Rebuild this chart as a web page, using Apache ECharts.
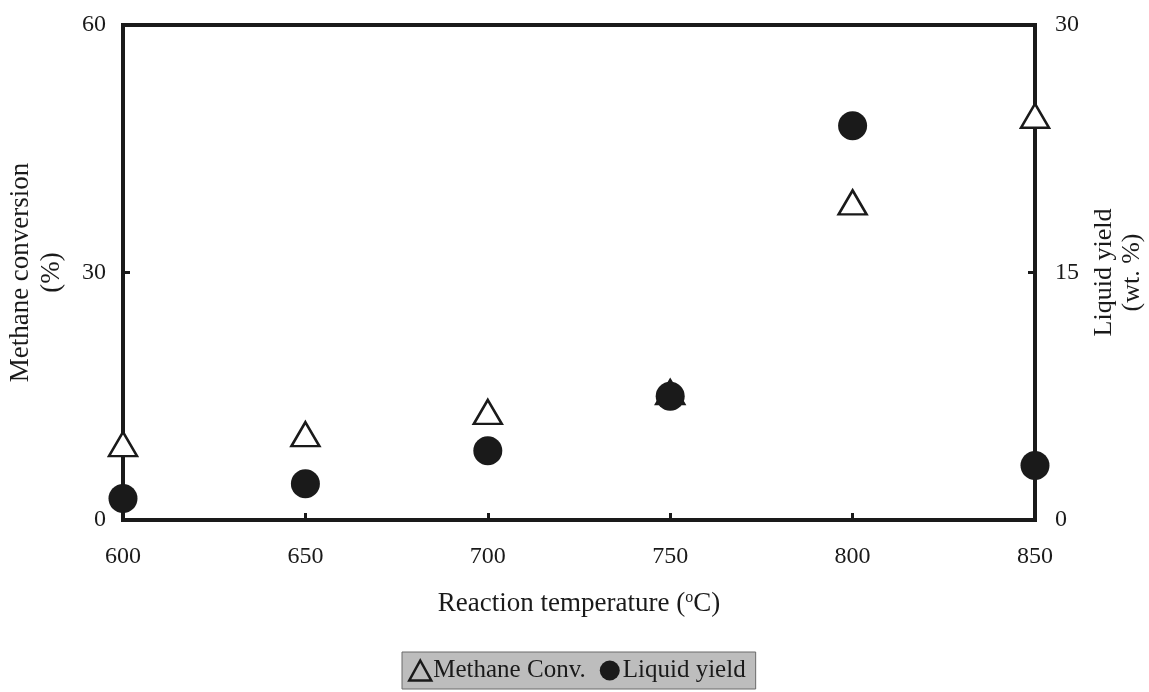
<!DOCTYPE html>
<html>
<head>
<meta charset="utf-8">
<script src="https://cdn.jsdelivr.net/npm/echarts@6/dist/echarts.min.js"></script>
<style>
  html, body { margin: 0; padding: 0; background: #fff; }
  #chart { width: 1149px; height: 692px; }
</style>
</head>
<body>
<div id="chart"></div>
<script>
// reaction temperature (°C)
const temperatures = [600, 650, 700, 750, 800, 850];
// methane conversion (%), left axis
const methaneConv = [9.2, 10.4, 13.1, 15.5, 38.5, 49.0];
// liquid yield (wt. %), right axis
const liquidYield = [1.3, 2.2, 4.2, 7.5, 23.9, 3.3];

const FONT = "Liberation Serif";
const INK = "#1a1a1a";

const chart = echarts.init(document.getElementById("chart"));

const tickText = { color: INK, fontFamily: FONT, fontSize: 24 };
const tickStyle = { show: true, inside: true, length: 7, lineStyle: { color: INK, width: 3 } };

const option = {
  animation: false,
  backgroundColor: "#fff",
  grid: {
    left: 123,
    right: 114,
    top: 25,
    bottom: 172,
    outerBoundsMode: "none",
    containLabel: false,
    show: true,
    borderColor: INK,
    borderWidth: 4,
  },
  legend: {
    left: 402,
    bottom: 3,
    backgroundColor: "#bdbdbd",
    borderColor: "#6a6a6a",
    borderWidth: 1,
    borderRadius: 0,
    padding: [6, 10, 6, 6],
    itemGap: 14,
    itemWidth: 22,
    itemHeight: 20,
    textStyle: { color: INK, fontFamily: FONT, fontSize: 25, padding: [0, 0, 0, -3] },
    data: [
      {
        name: "Methane Conv.",
        icon: "triangle",
        itemStyle: { color: "rgba(0,0,0,0)", borderColor: INK, borderWidth: 2.5 },
      },
      { name: "Liquid yield", icon: "circle" },
    ],
  },
  xAxis: {
    type: "value",
    min: 600,
    max: 850,
    interval: 50,
    name: "Reaction temperature ({sup|o}C)",
    nameLocation: "middle",
    nameGap: 70,
    nameTextStyle: {
      color: INK,
      fontFamily: FONT,
      fontSize: 27,
      rich: { sup: { fontFamily: FONT, fontSize: 16, verticalAlign: "top", padding: [0, 0, 12, 0], color: INK } },
    },
    axisLine: { show: true, onZero: false, lineStyle: { color: INK, width: 4 } },
    axisTick: tickStyle,
    axisLabel: Object.assign({ margin: 25 }, tickText),
    splitLine: { show: false },
  },
  yAxis: [
    {
      type: "value",
      min: 0,
      max: 60,
      interval: 30,
      name: "Methane conversion\n(%)",
      nameLocation: "middle",
      nameRotate: 90,
      nameGap: 56,
      nameTextStyle: { color: INK, fontFamily: FONT, fontSize: 27, lineHeight: 31 },
      axisLine: { show: true, lineStyle: { color: INK, width: 4 } },
      axisTick: tickStyle,
      axisLabel: Object.assign({ margin: 17 }, tickText),
      splitLine: { show: false },
    },
    {
      type: "value",
      min: 0,
      max: 30,
      interval: 15,
      position: "right",
      name: "Liquid yield\n(wt. %)",
      nameLocation: "middle",
      nameRotate: 90,
      nameGap: 54,
      nameTextStyle: { color: INK, fontFamily: FONT, fontSize: 26, lineHeight: 28 },
      axisLine: { show: true, lineStyle: { color: INK, width: 4 } },
      axisTick: tickStyle,
      axisLabel: Object.assign({ margin: 20 }, tickText),
      splitLine: { show: false },
    },
  ],
  series: [
    {
      name: "Methane Conv.",
      type: "scatter",
      yAxisIndex: 0,
      symbol: "triangle",
      symbolSize: [28, 24],
      itemStyle: { color: "#fff", borderColor: INK, borderWidth: 2.5, opacity: 1 },
      data: temperatures.map((t, i) => [t, methaneConv[i]]),
      z: 3,
    },
    {
      name: "Liquid yield",
      type: "scatter",
      yAxisIndex: 1,
      symbol: "circle",
      symbolSize: 29,
      itemStyle: { color: INK, opacity: 1 },
      data: temperatures.map((t, i) => [t, liquidYield[i]]),
      z: 4,
    },
  ],
};

chart.setOption(option);
</script>
</body>
</html>
